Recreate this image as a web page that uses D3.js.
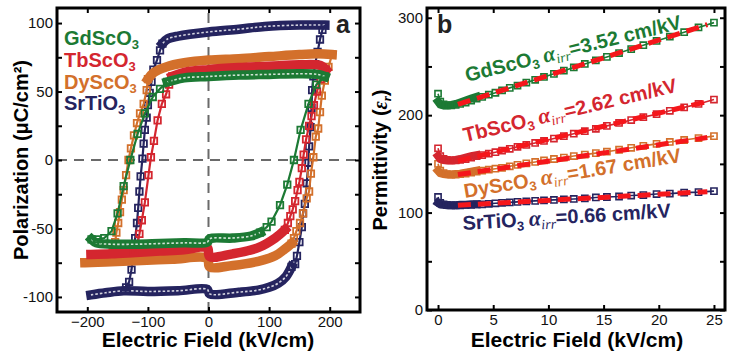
<!DOCTYPE html>
<html>
<head>
<meta charset="utf-8">
<script src="https://cdn.jsdelivr.net/npm/d3@7/dist/d3.min.js"></script>
<style>
  body { margin: 0; background: #fff; }
  svg { display: block; font-family: Arial, "Liberation Sans", sans-serif; }
</style>
</head>
<body>
<svg id="chart" width="729" height="352"></svg>
<script>
// ---- panel a: P-E loops, [field kV/cm, polarization uC/cm2] ----
const gdUpFlat = [[192,61],[180,62.5],[150,63],[100,62.5],[50,62],[0,61],[-40,60],[-60,58],[-68,57]];
const gdUpSwitch = [[-68,57],[-80,52],[-92,46],[-105,34],[-117,19],[-129,0],[-140,-19],[-150,-39],[-160,-52],[-172,-57],[-184,-58],[-193,-58]];
const gdLowFlat = [[-193,-58],[-185,-60.5],[-160,-61.5],[-120,-61.5],[-80,-61],[-40,-60.5],[-2,-60],[2,-57.5],[40,-57],[70,-55.5],[85,-53]];
const gdLowSwitch = [[85,-53],[96,-49],[104,-45],[118,-33],[130,-18],[141,0],[152,22],[165,41],[178,55],[192,61]];

const tbUpFlat = [[194,66],[185,69],[150,69.5],[100,68.5],[50,67.5],[0,66],[-40,64],[-60,61]];
const tbUpSwitch = [[-60,61],[-65,55],[-70,48],[-77,41],[-84,29],[-90,14],[-95,2],[-99,-11],[-105,-31],[-110,-44],[-114,-54],[-118,-62],[-123,-67]];
const tbLowFlat = [[-194,-69],[-160,-68.5],[-120,-67.5],[-80,-66.5],[-40,-65.5],[-2,-64],[2,-70.5],[40,-68.5],[82,-64],[110,-57],[126,-51]];
const tbLowSwitch = [[126,-51],[131,-46],[135,-41],[139,-36],[143,-30],[147,-22],[150,-16],[154,-6],[157,4],[161,15],[166,25],[170,32],[174,40],[179,50],[185,59],[191,65],[194,66]];

const dyUpFlat = [[204,77],[180,77.5],[150,77],[100,75.5],[50,74],[0,73],[-40,71],[-70,68],[-90,64],[-100,59]];
const dyUpSwitch = [[-100,59],[-102,51],[-107,41],[-113,34],[-118,27],[-123,18],[-128,8.5],[-132,0],[-136,-11],[-140,-22],[-143,-29],[-146,-38],[-149,-46],[-152,-53],[-154,-60],[-158,-67],[-165,-71]];
const dyLowFlat = [[-204,-75],[-170,-74.5],[-120,-73.5],[-60,-72.5],[-2,-72],[2,-78],[40,-77],[82,-74],[110,-70],[126,-65],[137,-61]];
const dyLowSwitch = [[137,-61],[141,-57],[145,-52],[151,-46],[156,-39],[162,-28],[166,-23],[169,-10],[173,2],[177,17],[181,23],[184,35],[187,47],[192,58],[198,68],[204,77]];

const srUpFlat = [[192,98.5],[150,98.5],[93,97.5],[50,95.5],[0,93.5],[-50,90.5],[-67,88.5],[-76,85]];
const srUpSwitch = [[-76,85],[-80,80],[-85,73],[-91,66],[-94,57],[-97,49],[-100,40],[-102,31],[-105,22],[-107,12],[-109,1],[-112,-12],[-114,-23],[-116,-35],[-118,-46],[-121,-57],[-124,-68],[-127,-80],[-131,-89],[-136,-93]];
const srLowFlat = [[-194,-98.5],[-170,-97],[-140,-95.5],[-100,-96],[-50,-95.5],[-2,-94.5],[2,-97.8],[50,-96.5],[82,-95],[100,-93],[115,-90],[128,-85],[137,-78]];
const srLowSwitch = [[137,-78],[143,-76],[146,-70],[150,-60],[154,-49],[156,-39],[159,-32],[162,-17],[165,-2],[166,10],[168.5,24],[170,38],[171,51],[173,61],[176,70],[180,79],[184,88],[188,95],[192,98.5]];

// ---- panel b: permittivity vs field ----
const permField = [0,0.2,0.5,0.8,1.2,1.6,2,2.5,3,3.5,4,4.6,5.2,5.8,6.5,7.2,8,8.8,9.6,10.5,11.4,12.3,13.3,14.3,15.3,16.4,17.5,18.6,19.8,21,22.3,23.6,25];
const gdPerm = [222,214,211,210,210,210.5,211.5,213,215,217,218.8,221,223,225.4,228,230.4,233.4,236.3,239.2,242.4,245.7,249,252.6,256.2,259.8,263.8,267.8,271.8,276.2,280.5,285.2,290,295];
const tbPerm = [166,158,155,154,153.5,153.5,154,155,156.5,158,159,160.5,162,163.5,165.5,167.5,169.5,171.5,173.5,176,178.5,181,183.5,186,189,192,195,198,201,204.5,208,211.5,216];
const dyPerm = [150,143,140.5,139.5,139,139,139.5,140,141,142,143,144,145,146,147.5,149,150.5,152,153.5,155,156.5,158,159.5,161,162.5,164.5,166.5,168.5,170.5,172.5,174.5,176.5,178.5];
const srPerm = [116,110,108.5,108,107.5,107.5,107.5,108,108,108.5,108.5,109,109.5,110,110.5,111,111.5,112,112.5,113,113.5,114,114.5,115.5,116,116.5,117.5,118,119,119.5,120.5,121,122];
const fitField = [1.8, 24.4];
const gdFit = [211, 293];
const tbFit = [153, 214];
const dyFit = [139, 177];
const srFit = [107.5, 121.5];

const materials = ['GdScO', 'TbScO', 'DyScO', 'SrTiO'];
const alphaIrr = ['3.52', '2.62', '1.67', '0.66'];
const colors = ['#1c7a34', '#d4262f', '#d3702b', '#25245f'];
const fitColor = '#f5161b';

const svg = d3.select('#chart');

// scales
const xL = d3.scaleLinear().domain([-250, 250]).range([57, 360]);
const yL = d3.scaleLinear().domain([-111, 111]).range([312, 8]);
const xR = d3.scaleLinear().domain([-1, 26]).range([427, 725]);
const yR = d3.scaleLinear().domain([0, 310]).range([310, 8]);

function drawAxes(x, y, xTicks, yTicks, yLabelEvery) {
  const [x0, x1] = x.range();
  const [y0, y1] = y.range();
  const g = svg.append('g').attr('class', 'axes');
  g.append('g').attr('transform', `translate(0,${y0})`)
    .call(d3.axisBottom(x).tickValues(xTicks).tickSize(-5).tickSizeOuter(0).tickPadding(4));
  g.append('g').attr('transform', `translate(0,${y1})`)
    .call(d3.axisTop(x).tickValues(xTicks).tickSize(-5).tickSizeOuter(0).tickFormat(''));
  g.append('g').attr('transform', `translate(${x0},0)`)
    .call(d3.axisLeft(y).tickValues(yTicks).tickSize(-5).tickSizeOuter(0).tickPadding(4)
      .tickFormat(d => d % yLabelEvery === 0 ? d : ''));
  g.append('g').attr('transform', `translate(${x1},0)`)
    .call(d3.axisRight(y).tickValues(yTicks).tickSize(-5).tickSizeOuter(0).tickFormat(''));
  g.selectAll('.domain').remove();
  g.selectAll('.tick line').attr('stroke', '#000').attr('stroke-width', 2);
  g.selectAll('.tick text').attr('font-size', 15).attr('fill', '#111')
    .attr('font-family', 'Arial, "Liberation Sans", sans-serif');
  svg.append('rect')
    .attr('x', x0).attr('y', y1).attr('width', x1 - x0).attr('height', y0 - y1)
    .attr('fill', 'none').attr('stroke', '#000').attr('stroke-width', 3);
}

// ---------- panel a ----------
const plotA = svg.append('g');
plotA.append('line')
  .attr('x1', xL(-250)).attr('x2', xL(250)).attr('y1', yL(0)).attr('y2', yL(0))
  .attr('stroke', '#6a6a6a').attr('stroke-width', 2).attr('stroke-dasharray', '10,7');
plotA.append('line')
  .attr('x1', xL(0)).attr('x2', xL(0)).attr('y1', yL(-111)).attr('y2', yL(111))
  .attr('stroke', '#6a6a6a').attr('stroke-width', 2).attr('stroke-dasharray', '10,7');

const loops = [
  { color: colors[3], flats: [srUpFlat, srLowFlat], switches: [srUpSwitch, srLowSwitch], dotted: true },
  { color: colors[2], flats: [dyUpFlat, dyLowFlat], switches: [dyUpSwitch, dyLowSwitch], dotted: false },
  { color: colors[1], flats: [tbUpFlat, tbLowFlat], switches: [tbUpSwitch, tbLowSwitch], dotted: false },
  { color: colors[0], flats: [gdUpFlat, gdLowFlat], switches: [gdUpSwitch, gdLowSwitch], dotted: true }
];

const bandLine = d3.line().x(d => xL(d[0])).y(d => yL(d[1])).curve(d3.curveCatmullRom.alpha(0.5));
const thinLine = d3.line().x(d => xL(d[0])).y(d => yL(d[1]));
const square = d3.symbol().type(d3.symbolSquare).size(42);

loops.forEach(loop => {
  const g = plotA.append('g');
  loop.flats.forEach(f => {
    g.append('path').attr('d', bandLine(f))
      .attr('fill', 'none').attr('stroke', loop.color)
      .attr('stroke-width', 9.5).attr('stroke-linejoin', 'round').attr('stroke-linecap', 'square');
    if (loop.dotted) {
      g.append('path').attr('d', bandLine(f))
        .attr('fill', 'none').attr('stroke', '#fff').attr('stroke-opacity', 0.8)
        .attr('stroke-width', 1.6).attr('stroke-dasharray', '2.5,2');
    }
  });
  loop.switches.forEach(s => {
    g.append('path').attr('d', thinLine(s))
      .attr('fill', 'none').attr('stroke', loop.color).attr('stroke-width', 2.2);
    g.selectAll(null).data(s).enter().append('path')
      .attr('d', square)
      .attr('transform', d => `translate(${xL(d[0])},${yL(d[1])})`)
      .attr('fill', 'none').attr('stroke', loop.color).attr('stroke-width', 1.8);
  });
});

drawAxes(xL, yL, [-200, -100, 0, 100, 200], d3.range(-100, 101, 25), 50);

// legend of panel a
const legendY = [45, 67, 89, 110];
materials.forEach((m, i) => {
  const t = svg.append('text')
    .attr('x', 64).attr('y', legendY[i])
    .attr('font-size', 20).attr('font-weight', 'bold').attr('fill', colors[i]);
  t.append('tspan').text(m);
  t.append('tspan').attr('font-size', 13).attr('dy', 4).text('3');
});

svg.append('text').attr('x', 336).attr('y', 33)
  .attr('font-size', 25).attr('font-weight', 'bold').attr('fill', '#222').text('a');

svg.append('text')
  .attr('x', 208).attr('y', 347).attr('text-anchor', 'middle')
  .attr('font-size', 21).attr('font-weight', 'bold').text('Electric Field (kV/cm)');
svg.append('text')
  .attr('transform', 'translate(28,160) rotate(-90)').attr('text-anchor', 'middle')
  .attr('font-size', 20).attr('font-weight', 'bold').text('Polarization (\u03BCC/cm\u00B2)');

// ---------- panel b ----------
const plotB = svg.append('g');
const permSeries = [gdPerm, tbPerm, dyPerm, srPerm];
const fits = [gdFit, tbFit, dyFit, srFit];
const permLine = d3.line().x((d, i) => xR(permField[i])).y(d => yR(d));
const smallSquare = d3.symbol().type(d3.symbolSquare).size(38);

[3, 2, 1, 0].forEach(i => {
  const g = plotB.append('g');
  // low-field points sit so close together that they merge into a band
  g.append('path').attr('d', permLine(permSeries[i].slice(1, 11)))
    .attr('fill', 'none').attr('stroke', colors[i]).attr('stroke-width', 8)
    .attr('stroke-linecap', 'square');
  g.append('path').attr('d', permLine(permSeries[i]))
    .attr('fill', 'none').attr('stroke', colors[i]).attr('stroke-width', 1.6);
  g.selectAll(null).data(permSeries[i]).enter().append('path')
    .attr('d', smallSquare)
    .attr('transform', (d, j) => `translate(${xR(permField[j])},${yR(d)})`)
    .attr('fill', 'none').attr('stroke', colors[i]).attr('stroke-width', 1.6);
});
fits.forEach(f => {
  plotB.append('path')
    .attr('d', d3.line().x((d, j) => xR(fitField[j])).y(d => yR(d))(f))
    .attr('fill', 'none').attr('stroke', fitColor).attr('stroke-width', 5)
    .attr('stroke-dasharray', '13,7');
});

drawAxes(xR, yR, [0, 5, 10, 15, 20, 25], d3.range(0, 301, 50), 100);

// annotations in panel b
const annot = [
  { x: 467, y: 82, angle: -14 },
  { x: 465, y: 142, angle: -13.3 },
  { x: 465, y: 198, angle: -9.5 },
  { x: 463, y: 230, angle: -3.5 }
];
annot.forEach((a, i) => {
  const t = svg.append('text')
    .attr('transform', `translate(${a.x},${a.y}) rotate(${a.angle})`)
    .attr('font-size', 20).attr('font-weight', 'bold').attr('fill', colors[i]);
  t.append('tspan').text(materials[i]);
  t.append('tspan').attr('font-size', 13).attr('dy', 4).text('3');
  t.append('tspan').attr('dx', 5).attr('dy', -4)
    .attr('font-family', '"Liberation Serif", "DejaVu Serif", serif').attr('font-style', 'italic')
    .attr('font-weight', 'bold').attr('font-size', 22).text('\u03B1');
  t.append('tspan').attr('dy', 4)
    .attr('font-family', '"Liberation Serif", "DejaVu Serif", serif').attr('font-style', 'italic')
    .attr('font-weight', 'normal').attr('font-size', 14).text('irr');
  t.append('tspan').attr('dy', -4).text(`=${alphaIrr[i]} cm/kV`);
});

svg.append('text').attr('x', 437).attr('y', 33)
  .attr('font-size', 25).attr('font-weight', 'bold').attr('fill', '#222').text('b');

svg.append('text')
  .attr('x', 577).attr('y', 347).attr('text-anchor', 'middle')
  .attr('font-size', 21).attr('font-weight', 'bold').text('Electric Field (kV/cm)');
const yt = svg.append('text')
  .attr('transform', 'translate(387,160) rotate(-90)').attr('text-anchor', 'middle')
  .attr('font-size', 20).attr('font-weight', 'bold');
yt.append('tspan').text('Permittivity (');
yt.append('tspan').attr('font-family', '"Liberation Serif", "DejaVu Serif", serif')
  .attr('font-style', 'italic').text('\u03B5');
yt.append('tspan').attr('font-family', '"Liberation Serif", "DejaVu Serif", serif')
  .attr('font-style', 'italic').attr('font-size', 13).attr('dy', 4).text('r');
yt.append('tspan').attr('dy', -4).text(')');
</script>
</body>
</html>
